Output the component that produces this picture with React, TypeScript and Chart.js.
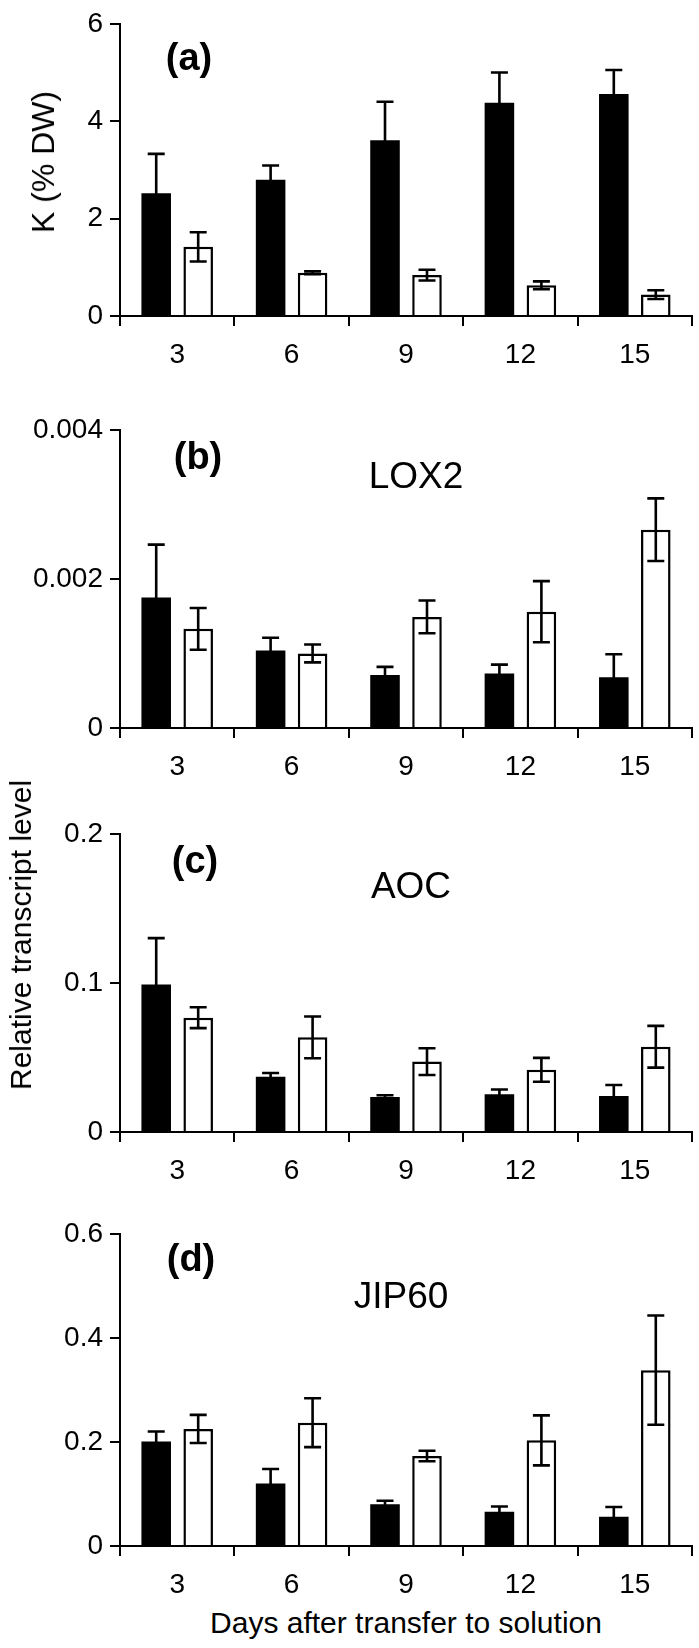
import React, { useEffect, useRef } from "react";
import { Chart, registerables } from "chart.js";

Chart.register(...registerables);

const FONT = "'Liberation Sans', Arial, Helvetica, sans-serif";

// Shared categories (days after transfer)
const categories = ["3", "6", "9", "12", "15"];

// Panel (a) K (% DW)
const kBlack = [2.52, 2.8, 3.61, 4.38, 4.56];
const kBlackErr = [0.81, 0.29, 0.79, 0.62, 0.49];
const kWhite = [1.42, 0.89, 0.84, 0.63, 0.44];
const kWhiteErr = [0.3, 0.03, 0.11, 0.08, 0.09];
const kTicks = [0, 2, 4, 6];

// Panel (b) LOX2
const loxBlack = [0.00175, 0.00104, 0.00071, 0.00073, 0.00068];
const loxBlackErr = [0.00071, 0.00017, 0.00011, 0.00012, 0.00031];
const loxWhite = [0.00133, 0.001, 0.00149, 0.00156, 0.00266];
const loxWhiteErr = [0.00028, 0.00012, 0.00022, 0.00041, 0.00042];
const loxTicks = [0, 0.002, 0.004];

// Panel (c) AOC
const aocBlack = [0.099, 0.037, 0.0235, 0.0254, 0.0241];
const aocBlackErr = [0.031, 0.0026, 0.0011, 0.0031, 0.0074];
const aocWhite = [0.0767, 0.0635, 0.0472, 0.0417, 0.0572];
const aocWhiteErr = [0.007, 0.014, 0.009, 0.008, 0.014];
const aocTicks = [0, 0.1, 0.2];

// Panel (d) JIP60
const jipBlack = [0.201, 0.12, 0.08, 0.066, 0.056];
const jipBlackErr = [0.019, 0.028, 0.007, 0.01, 0.019];
const jipWhite = [0.225, 0.237, 0.173, 0.203, 0.338];
const jipWhiteErr = [0.027, 0.047, 0.01, 0.048, 0.105];
const jipTicks = [0, 0.2, 0.4, 0.6];

type PanelCfg = {
  top: number;
  plotHeight: number;
  black: number[];
  blackErr: number[];
  white: number[];
  whiteErr: number[];
  ticks: number[];
  letter: string;
  letterPos: [number, number];
  gene?: string;
  genePos?: [number, number];
};

const panels: PanelCfg[] = [
  { top: 0, plotHeight: 301, black: kBlack, blackErr: kBlackErr, white: kWhite, whiteErr: kWhiteErr, ticks: kTicks, letter: "(a)", letterPos: [69, 36] },
  { top: 406, plotHeight: 307, black: loxBlack, blackErr: loxBlackErr, white: loxWhite, whiteErr: loxWhiteErr, ticks: loxTicks, letter: "(b)", letterPos: [78, 29], gene: "LOX2", genePos: [296, 48] },
  { top: 810, plotHeight: 307, black: aocBlack, blackErr: aocBlackErr, white: aocWhite, whiteErr: aocWhiteErr, ticks: aocTicks, letter: "(c)", letterPos: [75, 29], gene: "AOC", genePos: [291, 54] },
  { top: 1210, plotHeight: 321, black: jipBlack, blackErr: jipBlackErr, white: jipWhite, whiteErr: jipWhiteErr, ticks: jipTicks, letter: "(d)", letterPos: [71, 27], gene: "JIP60", genePos: [281, 64] },
];

const PAD_TOP = 15;
const X_AXIS_H = 50;

function fmt(v: number) {
  return String(Number(v.toPrecision(6)));
}

function Panel({ cfg }: { cfg: PanelCfg }) {
  const ref = useRef<HTMLCanvasElement>(null);
  const height = PAD_TOP + cfg.plotHeight + X_AXIS_H;

  useEffect(() => {
    const errors = [cfg.blackErr, cfg.whiteErr];
    const errorBarPlugin = {
      id: "errorBars",
      afterDatasetsDraw(chart: any) {
        const ctx = chart.ctx;
        const y = chart.scales.y;
        const cap = 8.5;
        ctx.save();
        ctx.strokeStyle = "#000";
        ctx.lineWidth = 2.6;
        chart.data.datasets.forEach((ds: any, di: number) => {
          const meta = chart.getDatasetMeta(di);
          meta.data.forEach((bar: any, i: number) => {
            const v = ds.data[i] as number;
            const e = errors[di][i];
            const x = bar.x;
            const yTop = y.getPixelForValue(v + e);
            const yBot = y.getPixelForValue(v - e);
            ctx.beginPath();
            ctx.moveTo(x, yTop);
            ctx.lineTo(x, yBot);
            ctx.moveTo(x - cap, yTop);
            ctx.lineTo(x + cap, yTop);
            ctx.moveTo(x - cap, yBot);
            ctx.lineTo(x + cap, yBot);
            ctx.stroke();
          });
        });
        ctx.restore();
      },
    };
    const labelPlugin = {
      id: "panelLabels",
      afterDraw(chart: any) {
        const ctx = chart.ctx;
        const a = chart.chartArea;
        ctx.save();
        ctx.fillStyle = "#000";
        ctx.textAlign = "center";
        ctx.textBaseline = "middle";
        ctx.font = `bold 38px ${FONT}`;
        ctx.fillText(cfg.letter, a.left + cfg.letterPos[0], a.top + cfg.letterPos[1]);
        if (cfg.gene && cfg.genePos) {
          ctx.font = `37px ${FONT}`;
          ctx.fillText(cfg.gene, a.left + cfg.genePos[0], a.top + cfg.genePos[1]);
        }
        ctx.restore();
      },
    };

    const yMax = cfg.ticks[cfg.ticks.length - 1];
    const chart = new Chart(ref.current!, {
      type: "bar",
      data: {
        labels: categories,
        datasets: [
          {
            data: cfg.black,
            backgroundColor: "#000",
            borderWidth: 0,
            categoryPercentage: 0.734,
            barPercentage: 0.704,
          },
          {
            data: cfg.white,
            backgroundColor: "#fff",
            borderColor: "#000",
            borderWidth: 2.5,
            categoryPercentage: 0.734,
            barPercentage: 0.704,
          },
        ],
      },
      options: {
        responsive: false,
        animation: false,
        devicePixelRatio: 1,
        layout: { padding: { top: PAD_TOP, right: 7, bottom: 0, left: 0 } },
        plugins: {
          legend: { display: false },
          tooltip: { enabled: false },
        },
        scales: {
          x: {
            type: "category",
            grid: {
              offset: true,
              drawOnChartArea: false,
              drawTicks: true,
              tickLength: 10,
              color: "#000",
              lineWidth: 2,
            },
            border: { display: true, color: "#000", width: 2 },
            ticks: {
              color: "#000",
              font: { family: FONT, size: 28 },
              padding: 12,
              maxRotation: 0,
              autoSkip: false,
            },
            afterFit: (s: any) => {
              s.height = X_AXIS_H;
            },
          },
          y: {
            min: 0,
            max: yMax,
            afterBuildTicks: (s: any) => {
              s.ticks = cfg.ticks.map((v) => ({ value: v }));
            },
            grid: {
              drawOnChartArea: false,
              drawTicks: true,
              tickLength: 10,
              color: "#000",
              lineWidth: 2,
            },
            border: { display: true, color: "#000", width: 2 },
            ticks: {
              color: "#000",
              font: { family: FONT, size: 28 },
              padding: 7,
              callback: (v: any) => fmt(Number(v)),
            },
            afterFit: (s: any) => {
              s.width = 120;
            },
          },
        },
      } as any,
      plugins: [errorBarPlugin, labelPlugin],
    });
    return () => chart.destroy();
  }, []);

  return (
    <canvas
      ref={ref}
      width={699}
      height={height}
      style={{ position: "absolute", left: 0, top: cfg.top, width: 699, height }}
    />
  );
}

const rotStyle = (x: number, y: number, size: number): React.CSSProperties => ({
  position: "absolute",
  left: x,
  top: y,
  transform: "translate(-50%, -50%) rotate(-90deg)",
  whiteSpace: "nowrap",
  fontFamily: FONT,
  fontSize: size,
  lineHeight: 1,
  color: "#000",
});

export default function App() {
  return (
    <div style={{ position: "absolute", left: 0, top: 0, width: 699, height: 1648, background: "#fff" }}>
      {panels.map((p, i) => (
        <Panel key={i} cfg={p} />
      ))}
      <div style={rotStyle(43, 162, 32)}>K (% DW)</div>
      <div style={rotStyle(21, 935, 30)}>Relative transcript level</div>
      <div
        style={{
          position: "absolute",
          left: 406,
          top: 1623,
          transform: "translate(-50%, -50%)",
          whiteSpace: "nowrap",
          fontFamily: FONT,
          fontSize: 30,
          lineHeight: 1,
          color: "#000",
        }}
      >
        Days after transfer to solution
      </div>
    </div>
  );
}
